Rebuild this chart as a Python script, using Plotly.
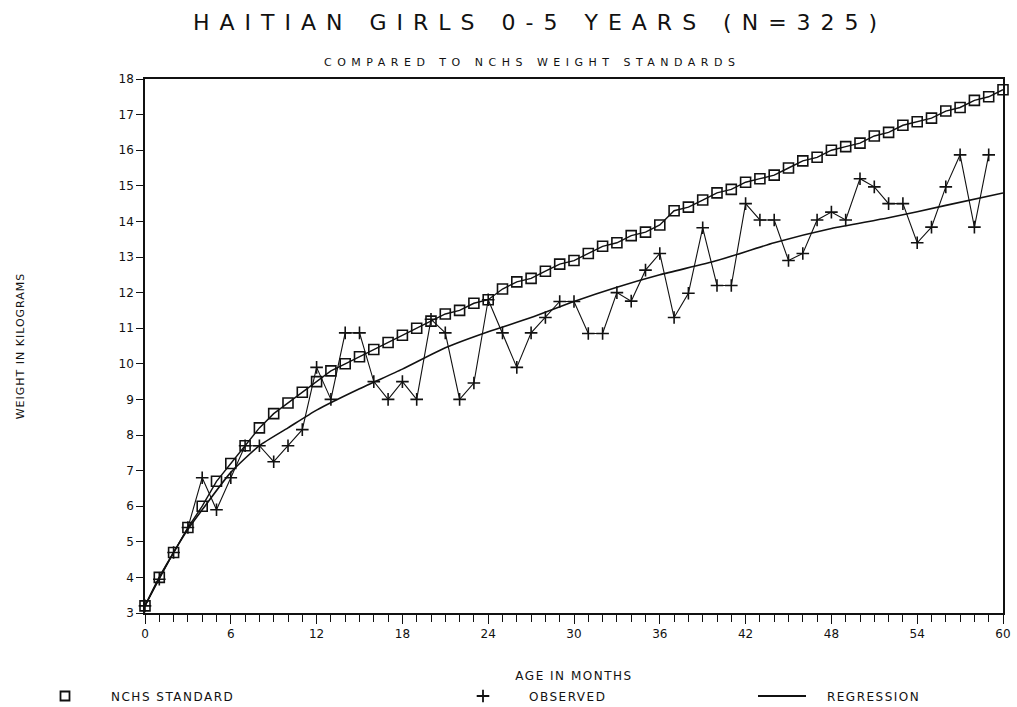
import plotly.graph_objects as go

months = list(range(0, 61))
nchs_standard = [3.2, 4.0, 4.7, 5.4, 6.0, 6.7, 7.2, 7.7, 8.2, 8.6, 8.9, 9.2, 9.5, 9.8, 10.0,
                 10.2, 10.4, 10.6, 10.8, 11.0, 11.2, 11.4, 11.5, 11.7, 11.8, 12.1, 12.3, 12.4,
                 12.6, 12.8, 12.9, 13.1, 13.3, 13.4, 13.6, 13.7, 13.9, 14.3, 14.4, 14.6, 14.8,
                 14.9, 15.1, 15.2, 15.3, 15.5, 15.7, 15.8, 16.0, 16.1, 16.2, 16.4, 16.5, 16.7,
                 16.8, 16.9, 17.1, 17.2, 17.4, 17.5, 17.7]

obs_months = list(range(0, 60))
observed = [3.2, 3.95, 4.7, 5.4, 6.8, 5.9, 6.8, 7.7, 7.7, 7.25, 7.7, 8.15, 9.9, 9.0, 10.87,
            10.87, 9.5, 9.0, 9.5, 9.0, 11.25, 10.87, 9.0, 9.46, 11.8, 10.87, 9.9, 10.87, 11.3,
            11.75, 11.75, 10.85, 10.85, 12.0, 11.76, 12.63, 13.1, 11.3, 11.98, 13.82, 12.2,
            12.2, 14.5, 14.04, 14.04, 12.9, 13.1, 14.04, 14.26, 14.04, 15.2, 14.97, 14.5, 14.5,
            13.4, 13.84, 14.97, 15.87, 13.84, 15.87]

reg_months = [0, 1, 2, 3, 4, 6, 8, 10, 12, 15, 18, 21, 24, 27, 30, 33, 36, 40, 44, 48, 52, 56, 60]
regression = [3.2, 4.0, 4.7, 5.35, 5.9, 6.95, 7.7, 8.2, 8.7, 9.3, 9.85, 10.45, 10.9, 11.3,
              11.75, 12.15, 12.5, 12.9, 13.4, 13.8, 14.1, 14.45, 14.8]

x_tick_vals = [0, 6, 12, 18, 24, 30, 36, 42, 48, 54, 60]
y_tick_vals = list(range(3, 19))

title_text = "HAITIAN GIRLS 0-5 YEARS (N=325)"
subtitle_text = "COMPARED TO NCHS WEIGHT STANDARDS"

FONT = "DejaVu Sans"
INK = "#111111"
W, H = 1017, 707
ML, MR, MT, MB = 145, 14, 79, 94
PW, PH = W - ML - MR, H - MT - MB
NB = "\u00a0"


def px_x(px):
    return (px - ML) / PW


def px_y(py):
    return (H - MB - py) / PH


def spaced(text, sp):
    return f'<span style="letter-spacing:{sp}px">{text}</span>'


fig = go.Figure()

fig.add_trace(go.Scatter(
    x=reg_months, y=regression, mode="lines",
    line=dict(color=INK, width=1.6, shape="spline", smoothing=0.6),
    showlegend=False, cliponaxis=False))
fig.add_trace(go.Scatter(
    x=obs_months, y=observed, mode="lines+markers", line=dict(color=INK, width=1.1),
    marker=dict(symbol="cross-thin-open", size=9, color=INK, line=dict(color=INK, width=1.6)),
    showlegend=False, cliponaxis=False))
fig.add_trace(go.Scatter(
    x=months, y=nchs_standard, mode="lines+markers", line=dict(color=INK, width=1.4),
    marker=dict(symbol="square-open", size=10, color=INK, line=dict(color=INK, width=1.6)),
    showlegend=False, cliponaxis=False))

# legend entries (one legend box each, placed like the original key)
fig.add_trace(go.Scatter(x=[None], y=[None], mode="markers", name=spaced("NCHS STANDARD", 1.5),
                         legend="legend",
                         marker=dict(symbol="square-open", size=9, color=INK, line=dict(color=INK, width=1.8))))
fig.add_trace(go.Scatter(x=[None], y=[None], mode="markers", name=spaced("OBSERVED", 1.5),
                         legend="legend2",
                         marker=dict(symbol="cross-thin-open", size=9, color=INK, line=dict(color=INK, width=1.8))))
fig.add_trace(go.Scatter(x=[None], y=[None], mode="lines", name=spaced(NB * 3 + "REGRESSION", 1.5),
                         legend="legend3",
                         line=dict(color=INK, width=2.2)))

leg_common = dict(orientation="h", yanchor="middle", y=px_y(696), xanchor="left",
                  font=dict(size=12, family=FONT, color=INK), bgcolor="rgba(0,0,0,0)",
                  borderwidth=0)

fig.update_layout(
    width=W, height=H,
    margin=dict(l=ML, r=MR, t=MT, b=MB, autoexpand=False),
    paper_bgcolor="white", plot_bgcolor="white",
    font=dict(family=FONT, color=INK, size=12),
    showlegend=True,
    legend=dict(leg_common, x=px_x(19), itemwidth=82),
    legend2=dict(leg_common, x=px_x(437), itemwidth=82),
    legend3=dict(leg_common, x=px_x(753), itemwidth=48),
    xaxis=dict(range=[0, 60], tickvals=x_tick_vals, ticks="outside", ticklen=9, tickwidth=1.2,
               tickcolor=INK, showgrid=False, zeroline=False, showline=True, linecolor=INK,
               linewidth=1.5, mirror=True, tickfont=dict(size=12),
               minor=dict(dtick=1, ticks="outside", ticklen=7, tickwidth=1, tickcolor=INK, showgrid=False),
               title=dict(text=spaced("AGE IN MONTHS", 1.5), font=dict(size=12), standoff=31)),
    yaxis=dict(range=[3, 18], tickvals=y_tick_vals, ticks="outside", ticklen=7, tickwidth=1.2,
               tickcolor=INK, showgrid=False, zeroline=False, showline=True, linecolor=INK,
               linewidth=1.5, mirror=True, tickfont=dict(size=12),
               title=dict(text=spaced("WEIGHT IN KILOGRAMS", 1), font=dict(size=11), standoff=92)),
    annotations=[
        dict(text=spaced(title_text, 10), x=px_x(540), y=px_y(22), xref="paper", yref="paper",
             showarrow=False, font=dict(size=22, family=FONT), xanchor="center", yanchor="middle"),
        dict(text=spaced(subtitle_text, 5.5), x=px_x(532), y=px_y(62), xref="paper", yref="paper",
             showarrow=False, font=dict(size=11, family=FONT), xanchor="center", yanchor="middle"),
    ],
)

fig.write_html("out.html",
               config={"displayModeBar": False},
               post_script="document.body.style.margin='0px';document.body.style.overflow='hidden';")
